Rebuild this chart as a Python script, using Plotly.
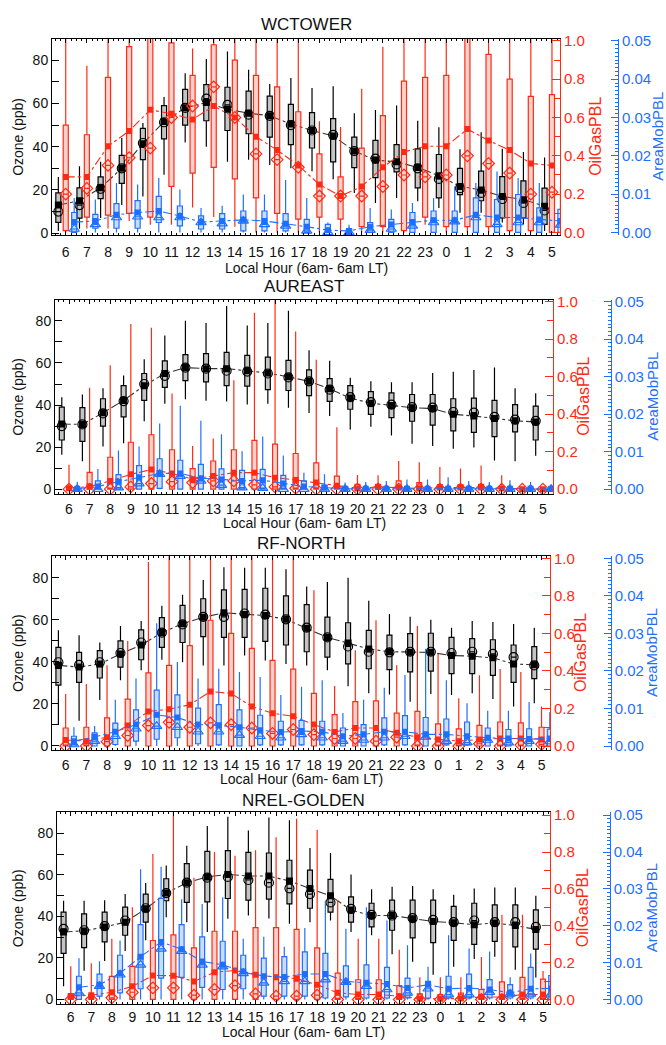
import plotly.graph_objects as go

# ---------------- data ----------------
HOURS = [6, 7, 8, 9, 10, 11, 12, 13, 14, 15, 16, 17, 18, 19, 20, 21, 22, 23, 0, 1, 2, 3, 4, 5]
HOUR_LABELS = [str(h) for h in HOURS]
SITES = ["WCTOWER", "AUREAST", "RF-NORTH", "NREL-GOLDEN"]

# WCTOWER
WC_O3_MEAN = [13, 15, 21, 30, 41.4, 51.6, 58, 60.4, 57.3, 55.5, 54.3, 50.5, 47.5, 45, 38, 33.8, 33, 30.4, 26.6, 21.6, 20, 17, 15.5, 12.5]
WC_O3_MED = [10, 13, 20.5, 30, 41.7, 51.3, 58, 62.2, 59.3, 54.8, 54.3, 50, 47.5, 45.5, 38, 34.5, 31.8, 30, 25.1, 20.8, 18.6, 15.8, 14, 10.5]
WC_O3_Q1 = [5, 7, 16, 23, 34, 43.6, 50, 52, 47.5, 46, 44.4, 41, 39.4, 33, 30.3, 25.7, 28.4, 21, 16.3, 17.8, 15, 7.1, 7.1, 4.1]
WC_O3_Q3 = [18.6, 21, 26, 36, 48.5, 59, 66.5, 68.7, 67.5, 65.7, 63.4, 59.6, 55.8, 53, 44.4, 42.9, 41, 39, 36.4, 30, 28.7, 26.2, 24.2, 20.8]
WC_O3_LO = [1, 2, 7, 13, 17, 27, 42, 40, 33, 34, 31.5, 30, 28.7, 25, 18.6, 14, 16.3, 14.8, 11.7, 9.4, 9.4, 4.9, 4.1, 1]
WC_O3_HI = [26, 31, 33, 44, 51, 63, 74, 80.6, 84, 75.6, 69, 71.8, 67.2, 68, 55.5, 57, 59, 52, 49, 38.8, 46.7, 39, 37.6, 35]

WC_OG_MEAN = [0.29, 0.29, 0.45, 0.53, 0.64, 0.62, 0.59, 0.66, 0.60, 0.50, 0.43, 0.35, 0.25, 0.19, 0.24, 0.34, 0.42, 0.45, 0.45, 0.54, 0.48, 0.43, 0.36, 0.35]
WC_OG_MED = [0.20, 0.23, 0.35, 0.39, 0.44, 0.60, 0.66, 0.76, 0.60, 0.41, 0.38, 0.34, 0.19, 0.19, 0.19, 0.24, 0.30, 0.29, 0.30, 0.40, 0.36, 0.31, 0.20, 0.21]
WC_OG_Q1 = [0.01, 0.08, 0.09, 0.10, 0.08, 0.24, 0.31, 0.34, 0.28, 0.18, 0.10, 0.07, 0.08, 0.07, 0.03, 0.03, 0.01, 0.08, 0.03, 0.03, 0.03, 0.01, 0.01, 0.0]
WC_OG_Q3 = [0.56, 0.51, 0.81, 0.97, 1.05, 0.99, 0.82, 0.98, 0.90, 0.82, 0.76, 0.63, 0.41, 0.29, 0.44, 0.61, 0.79, 0.81, 0.82, 1.05, 0.93, 0.80, 0.71, 0.72]
WC_OG_LO = [0.0, 0.02, 0.02, 0.06, 0.04, 0.04, 0.13, 0.08, 0.03, 0.0, 0.0, 0.0, 0.0, 0.0, 0.0, 0.0, 0.0, 0.04, 0.0, 0.0, 0.0, 0.0, 0.0, 0.0]
WC_OG_HI = [1.05, 0.87, 1.05, 1.05, 1.05, 1.05, 0.96, 1.05, 1.05, 1.05, 1.05, 1.05, 0.58, 0.55, 0.75, 0.97, 1.05, 1.05, 1.05, 1.05, 1.05, 1.05, 1.05, 1.05]

WC_AM_MEAN = [0.0027, 0.003, 0.0046, 0.0052, 0.0056, 0.0043, 0.0027, 0.003, 0.0033, 0.003, 0.0023, 0.0015, 0.0006, 0.0004, 0.0015, 0.0021, 0.0027, 0.0032, 0.0032, 0.0046, 0.0039, 0.0039, 0.0034, 0.003]
WC_AM_MED = [0.0009, 0.0021, 0.0039, 0.0041, 0.0039, 0.0039, 0.0026, 0.0023, 0.003, 0.0021, 0.0017, 0.0004, 0.0, 0.0, 0.0006, 0.0009, 0.0017, 0.0026, 0.0028, 0.0039, 0.0021, 0.0026, 0.0026, 0.002]
WC_AM_Q1 = [0.0, 0.0011, 0.0011, 0.0011, 0.0026, 0.0017, 0.0009, 0.0009, 0.0004, 0.0004, 0.0004, 0.0, 0.0, 0.0, 0.0, 0.0, 0.0, 0.0, 0.0, 0.0, 0.0, 0.0, 0.0, 0.0]
WC_AM_Q3 = [0.0052, 0.0047, 0.0075, 0.0083, 0.0094, 0.0069, 0.0043, 0.0049, 0.0056, 0.0056, 0.0049, 0.0034, 0.0021, 0.001, 0.0026, 0.0034, 0.0052, 0.0056, 0.0056, 0.009, 0.0086, 0.0099, 0.0064, 0.006]
WC_AM_LO = [0.0, 0.0, 0.0, 0.0, 0.0, 0.0, 0.0, 0.0, 0.0, 0.0, 0.0, 0.0, 0.0, 0.0, 0.0, 0.0, 0.0, 0.0, 0.0, 0.0, 0.0, 0.0, 0.0, 0.0]
WC_AM_HI = [0.009, 0.0086, 0.0129, 0.0125, 0.0142, 0.0112, 0.0064, 0.007, 0.0099, 0.0099, 0.0137, 0.009, 0.0026, 0.002, 0.0064, 0.006, 0.0077, 0.009, 0.012, 0.0129, 0.0159, 0.0142, 0.0129, 0.012]

# AUREAST
AU_O3_MEAN = [31, 30.8, 36.3, 42.2, 49.2, 55, 57.8, 57.3, 57.3, 56.3, 55.2, 53.4, 51.25, 47.7, 43.3, 40.9, 39.8, 38.75, 38.3, 35.6, 34.8, 33.6, 32.5, 32]
AU_O3_MED = [30, 30.8, 36, 41.9, 50, 53.9, 57.8, 57.3, 56.3, 55.9, 55, 53.1, 51.25, 47.3, 43.75, 41.4, 40.2, 39, 38.75, 36.7, 36.4, 34.4, 33.1, 32.5]
AU_O3_Q1 = [23.4, 22.7, 30, 34.4, 42.2, 48.4, 51.6, 51, 49.2, 49, 47.3, 46.9, 44.5, 41.7, 38, 35.6, 34, 32.3, 30.5, 27.7, 27, 25, 27.3, 23.4]
AU_O3_Q3 = [39, 38.75, 43, 49.2, 55, 61, 64, 64.4, 65, 63.6, 62.8, 61.25, 56.7, 52.6, 49.2, 46.4, 45.8, 45, 45, 43, 43.3, 42.2, 40.2, 39.5]
AU_O3_LO = [16.4, 13.3, 20.3, 21.9, 32.3, 40.6, 42.7, 42, 41.7, 40.3, 40.6, 38.75, 36.25, 34.8, 28.4, 29.7, 25.5, 21.6, 20.6, 19.2, 19.8, 13.6, 13.3, 15.9]
AU_O3_HI = [43.75, 45, 48, 54, 61.7, 73, 80, 79, 87, 77.8, 79, 84.8, 66, 61, 53, 51.25, 50.8, 50.8, 55.2, 55.8, 56.6, 57.8, 48, 45.6]

AU_OG_MEAN = [0.005, 0.014, 0.044, 0.079, 0.105, 0.084, 0.053, 0.07, 0.088, 0.088, 0.061, 0.049, 0.035, 0.018, 0.004, 0.012, 0.009, 0.004, 0.009, 0.009, 0.009, 0.004, 0.0, 0.0]
AU_OG_MED = [0.0, 0.0, 0.0, 0.012, 0.03, 0.04, 0.035, 0.044, 0.044, 0.023, 0.012, 0.005, 0.0, 0.0, 0.0, 0.0, 0.0, 0.0, 0.0, 0.0, 0.0, 0.0, 0.0, 0.0]
AU_OG_Q1 = [0.0, 0.0, 0.0, 0.0, 0.0, 0.0, 0.0, 0.0, 0.0, 0.0, 0.0, 0.0, 0.0, 0.0, 0.0, 0.0, 0.0, 0.0, 0.0, 0.0, 0.0, 0.0, 0.0, 0.0]
AU_OG_Q3 = [0.012, 0.09, 0.17, 0.25, 0.29, 0.21, 0.11, 0.15, 0.21, 0.26, 0.24, 0.19, 0.14, 0.07, 0.026, 0.026, 0.044, 0.035, 0.023, 0.023, 0.026, 0.01, 0.005, 0.003]
AU_OG_LO = [0.0, 0.0, 0.0, 0.0, 0.0, 0.0, 0.0, 0.0, 0.0, 0.0, 0.0, 0.0, 0.0, 0.0, 0.0, 0.0, 0.0, 0.0, 0.0, 0.0, 0.0, 0.0, 0.0, 0.0]
AU_OG_HI = [0.13, 0.54, 0.66, 0.88, 0.86, 0.51, 0.23, 0.27, 0.58, 0.94, 1.05, 0.84, 0.69, 0.33, 0.075, 0.074, 0.15, 0.144, 0.118, 0.11, 0.126, 0.074, 0.01, 0.005]

AU_AM_MEAN = [0.0001, 0.0007, 0.002, 0.0032, 0.0042, 0.0042, 0.0029, 0.0026, 0.0022, 0.0024, 0.0015, 0.0007, 0.0004, 0.0001, 0.0001, 0.0001, 0.0001, 0.0001, 0.0001, 0.0001, 0.0001, 0.0001, 0.0001, 0.0001]
AU_AM_MED = [0.0, 0.0, 0.0004, 0.0015, 0.004, 0.0035, 0.0022, 0.0011, 0.0004, 0.0003, 0.0, 0.0, 0.0, 0.0, 0.0, 0.0, 0.0, 0.0, 0.0, 0.0, 0.0, 0.0, 0.0, 0.0]
AU_AM_Q1 = [0.0, 0.0, 0.0, 0.0, 0.0002, 0.0, 0.0, 0.0, 0.0, 0.0, 0.0, 0.0, 0.0, 0.0, 0.0, 0.0, 0.0, 0.0, 0.0, 0.0, 0.0, 0.0, 0.0, 0.0]
AU_AM_Q3 = [0.0004, 0.0022, 0.0039, 0.0063, 0.0081, 0.0077, 0.0066, 0.0054, 0.005, 0.0053, 0.0037, 0.0022, 0.0011, 0.0004, 0.0003, 0.0003, 0.0003, 0.0003, 0.0003, 0.0003, 0.0003, 0.0003, 0.0003, 0.0002]
AU_AM_LO = [0.0, 0.0, 0.0, 0.0, 0.0, 0.0, 0.0, 0.0, 0.0, 0.0, 0.0, 0.0, 0.0, 0.0, 0.0, 0.0, 0.0, 0.0, 0.0, 0.0, 0.0, 0.0, 0.0, 0.0]
AU_AM_HI = [0.002, 0.0054, 0.0103, 0.0114, 0.0175, 0.0222, 0.0182, 0.0146, 0.0101, 0.014, 0.009, 0.0044, 0.004, 0.0018, 0.0019, 0.0022, 0.0026, 0.0026, 0.0032, 0.0022, 0.0019, 0.0024, 0.0019, 0.0005]

# RF-NORTH
RF_O3_MEAN = [38.3, 37.5, 39, 43.75, 48, 53.9, 58.1, 61.25, 63.3, 62.5, 62, 60.2, 56, 51.6, 48.9, 46.1, 44.8, 44.5, 44.5, 43, 42.7, 41.9, 39, 38.6]
RF_O3_MED = [39.8, 38.6, 39.8, 44.2, 49.2, 53.9, 57.8, 61.4, 61.4, 63, 62.5, 60.2, 56.25, 51.6, 47.3, 44.8, 44.5, 44.8, 44.8, 44.2, 44.8, 43.75, 42.2, 38.3]
RF_O3_Q1 = [28.9, 30.2, 32.3, 37.5, 41, 46.9, 49.2, 52, 51.6, 51.6, 49.7, 48, 44.8, 42.2, 39, 36.7, 36.25, 35.2, 35.6, 34.4, 34.4, 33.6, 30.2, 32]
RF_O3_Q3 = [46.9, 44.5, 45.3, 50, 55.2, 61, 66.9, 70, 74.2, 74.5, 75, 71.4, 67.2, 61.25, 58.6, 55, 52.7, 53.4, 53.6, 51.6, 51, 50.5, 48, 47.2]
RF_O3_LO = [10.2, 12, 21.9, 31.25, 36, 41, 39.8, 38.3, 38.3, 43, 40.6, 39, 38.3, 36, 28.4, 25, 24.5, 21, 24.7, 24.2, 25, 22.3, 18.75, 20.3]
RF_O3_HI = [55, 52.7, 49.2, 57, 59.4, 66.7, 71.9, 78.9, 85, 84.8, 84.8, 84, 75.8, 78, 80, 69, 62.8, 61.4, 60, 56.25, 59.4, 58.9, 58, 56.25]

RF_OG_MEAN = [0.032, 0.026, 0.047, 0.109, 0.184, 0.196, 0.22, 0.29, 0.28, 0.21, 0.175, 0.158, 0.114, 0.075, 0.096, 0.096, 0.07, 0.047, 0.035, 0.026, 0.035, 0.04, 0.04, 0.035]
RF_OG_MED = [0.0, 0.0, 0.023, 0.056, 0.109, 0.126, 0.1, 0.123, 0.114, 0.096, 0.067, 0.088, 0.061, 0.04, 0.04, 0.026, 0.047, 0.0, 0.0, 0.0, 0.012, 0.0, 0.005, 0.009]
RF_OG_Q1 = [0.0, 0.0, 0.0, 0.0, 0.0, 0.0, 0.0, 0.0, 0.0, 0.0, 0.0, 0.0, 0.0, 0.0, 0.0, 0.0, 0.0, 0.0, 0.0, 0.0, 0.0, 0.0, 0.0, 0.0]
RF_OG_Q3 = [0.096, 0.1, 0.15, 0.25, 0.39, 0.43, 0.535, 0.67, 0.6, 0.52, 0.456, 0.41, 0.28, 0.167, 0.237, 0.24, 0.175, 0.184, 0.118, 0.091, 0.11, 0.128, 0.123, 0.1]
RF_OG_LO = [0.0, 0.0, 0.0, 0.0, 0.0, 0.0, 0.0, 0.0, 0.0, 0.0, 0.0, 0.0, 0.0, 0.0, 0.0, 0.0, 0.0, 0.0, 0.0, 0.0, 0.0, 0.0, 0.0, 0.0]
RF_OG_HI = [0.277, 0.33, 0.43, 0.56, 0.98, 1.05, 1.05, 1.05, 1.05, 1.05, 1.05, 1.05, 0.83, 0.32, 0.51, 0.67, 0.43, 0.64, 0.49, 0.254, 0.377, 0.41, 0.395, 0.21]

RF_AM_MEAN = [0.0013, 0.0024, 0.0038, 0.0057, 0.0083, 0.0076, 0.0057, 0.0055, 0.005, 0.0042, 0.0037, 0.004, 0.0038, 0.0026, 0.0031, 0.0038, 0.0038, 0.0031, 0.0031, 0.0026, 0.0022, 0.002, 0.0019, 0.002]
RF_AM_MED = [0.0004, 0.0013, 0.0026, 0.0046, 0.0053, 0.005, 0.0038, 0.0038, 0.0029, 0.0026, 0.0022, 0.0031, 0.0022, 0.0013, 0.0016, 0.0022, 0.0026, 0.0024, 0.0013, 0.0009, 0.0016, 0.0009, 0.0013, 0.0012]
RF_AM_Q1 = [0.0, 0.0, 0.0004, 0.0013, 0.0018, 0.0022, 0.0006, 0.0003, 0.0, 0.0003, 0.0003, 0.0003, 0.0003, 0.0, 0.0, 0.0003, 0.0003, 0.0, 0.0003, 0.0003, 0.0, 0.0, 0.0, 0.0]
RF_AM_Q3 = [0.0026, 0.0035, 0.0061, 0.0096, 0.0149, 0.0136, 0.0101, 0.011, 0.0096, 0.0082, 0.0066, 0.0068, 0.0066, 0.0048, 0.0057, 0.0075, 0.0081, 0.0076, 0.0072, 0.0064, 0.0048, 0.0044, 0.0046, 0.0045]
RF_AM_LO = [0.0, 0.0, 0.0, 0.0, 0.0, 0.0, 0.0, 0.0, 0.0, 0.0, 0.0, 0.0, 0.0, 0.0, 0.0, 0.0, 0.0, 0.0, 0.0, 0.0, 0.0, 0.0, 0.0, 0.0]
RF_AM_HI = [0.005, 0.0053, 0.0123, 0.018, 0.0327, 0.0224, 0.018, 0.0206, 0.0197, 0.0184, 0.0136, 0.0158, 0.0175, 0.0088, 0.0123, 0.0155, 0.0189, 0.0259, 0.0175, 0.0114, 0.0094, 0.0094, 0.0117, 0.009]

# NREL-GOLDEN
NG_O3_MEAN = [32.5, 33, 34.9, 37.2, 43.6, 51.2, 56.2, 59, 60.2, 59.4, 59.4, 57, 53.4, 49.9, 43, 40.4, 40.4, 38.8, 37.5, 36.9, 36, 36.8, 35.6, 33.7]
NG_O3_MED = [34, 33.3, 35.3, 38, 43.9, 51.2, 56.2, 58.6, 59, 57.5, 56.2, 53.5, 50.7, 46.7, 43.6, 40.7, 40.4, 39.1, 38.3, 37.2, 38, 37.2, 37.2, 34.9]
NG_O3_Q1 = [22.2, 24.9, 27.7, 30.9, 37.2, 47.5, 46.7, 47, 48.6, 47.8, 48.3, 46, 43.9, 42, 37.2, 34.9, 33.3, 29.6, 27.4, 28.4, 26.5, 28, 25.3, 24.2]
NG_O3_Q3 = [42, 41.2, 42, 44.4, 50.7, 58.1, 65.4, 71.3, 71.6, 70.8, 70.5, 67, 62.3, 57.8, 49.4, 46.3, 47.8, 47.8, 47.8, 44.8, 46.3, 45.5, 45.5, 43.1]
NG_O3_LO = [6.3, 13.8, 18.5, 23.3, 28.5, 39.6, 37.2, 32.5, 38.8, 40.4, 39, 36.4, 37.2, 38, 32.5, 30.9, 21.7, 18.2, 11.9, 15.8, 19.5, 20.6, 14.3, 10.6]
NG_O3_HI = [47.5, 47.5, 47.8, 50.7, 56, 64.5, 74, 83.5, 88, 81.3, 87.6, 86.3, 72.9, 70.5, 60.2, 53, 54.3, 54.6, 53, 50.4, 53.4, 53.9, 53.9, 49.9]

NG_OG_MEAN = [0.018, 0.023, 0.039, 0.071, 0.13, 0.129, 0.098, 0.148, 0.157, 0.134, 0.121, 0.113, 0.08, 0.036, 0.027, 0.027, 0.018, 0.004, 0.004, 0.005, 0.014, 0.013, 0.027, 0.027]
NG_OG_MED = [0.0, 0.0, 0.009, 0.039, 0.063, 0.063, 0.023, 0.054, 0.075, 0.03, 0.018, 0.018, 0.023, 0.0, 0.0, 0.0, 0.0, 0.0, 0.0, 0.0, 0.0, 0.0, 0.0, 0.0]
NG_OG_Q1 = [0.0, 0.0, 0.0, 0.0, 0.0, 0.0, 0.0, 0.0, 0.0, 0.0, 0.0, 0.0, 0.0, 0.0, 0.0, 0.0, 0.0, 0.0, 0.0, 0.0, 0.0, 0.0, 0.0, 0.0]
NG_OG_Q3 = [0.03, 0.027, 0.125, 0.18, 0.32, 0.35, 0.28, 0.37, 0.37, 0.39, 0.39, 0.38, 0.28, 0.143, 0.107, 0.107, 0.075, 0.03, 0.027, 0.035, 0.054, 0.095, 0.12, 0.11]
NG_OG_LO = [0.0, 0.0, 0.0, 0.0, 0.0, 0.0, 0.0, 0.0, 0.0, 0.0, 0.0, 0.0, 0.0, 0.0, 0.0, 0.0, 0.0, 0.0, 0.0, 0.0, 0.0, 0.0, 0.0, 0.0]
NG_OG_HI = [0.18, 0.196, 0.33, 0.5, 0.79, 1.05, 0.66, 0.8, 0.78, 0.81, 0.88, 0.98, 0.92, 0.54, 0.33, 0.33, 0.27, 0.12, 0.12, 0.12, 0.23, 0.46, 0.46, 0.155]

NG_AM_MEAN = [0.0033, 0.004, 0.0071, 0.0116, 0.0156, 0.0136, 0.0103, 0.0094, 0.0076, 0.0063, 0.0061, 0.0069, 0.0069, 0.0049, 0.0045, 0.0042, 0.0031, 0.004, 0.0029, 0.0031, 0.0027, 0.0018, 0.0029, 0.003]
NG_AM_MED = [0.0018, 0.0036, 0.0067, 0.0094, 0.0137, 0.0131, 0.0094, 0.0089, 0.0071, 0.0045, 0.0049, 0.0049, 0.0054, 0.0047, 0.0036, 0.0027, 0.0018, 0.0029, 0.0013, 0.0013, 0.002, 0.0015, 0.0015, 0.0015]
NG_AM_Q1 = [0.0, 0.0009, 0.0018, 0.0029, 0.0058, 0.006, 0.0033, 0.0027, 0.0029, 0.0009, 0.0009, 0.0009, 0.0004, 0.0007, 0.0004, 0.0004, 0.0004, 0.0004, 0.0004, 0.0004, 0.0004, 0.0004, 0.0004, 0.0004]
NG_AM_Q3 = [0.0063, 0.0069, 0.012, 0.0203, 0.0274, 0.0203, 0.017, 0.0158, 0.012, 0.0112, 0.0116, 0.0129, 0.0125, 0.0091, 0.0094, 0.0087, 0.0058, 0.0049, 0.0063, 0.0069, 0.0054, 0.004, 0.0087, 0.0065]
NG_AM_LO = [0.0, 0.0, 0.0, 0.0, 0.0, 0.0, 0.0, 0.0, 0.0, 0.0, 0.0, 0.0, 0.0, 0.0, 0.0, 0.0, 0.0, 0.0, 0.0, 0.0, 0.0, 0.0, 0.0, 0.0]
NG_AM_HI = [0.0112, 0.0104, 0.016, 0.0353, 0.036, 0.0272, 0.0259, 0.0277, 0.0165, 0.017, 0.0143, 0.0194, 0.0268, 0.0192, 0.025, 0.0214, 0.0147, 0.0089, 0.0174, 0.0138, 0.013, 0.006, 0.0125, 0.0125]

O3_DATA = [
    (WC_O3_MEAN, WC_O3_MED, WC_O3_Q1, WC_O3_Q3, WC_O3_LO, WC_O3_HI),
    (AU_O3_MEAN, AU_O3_MED, AU_O3_Q1, AU_O3_Q3, AU_O3_LO, AU_O3_HI),
    (RF_O3_MEAN, RF_O3_MED, RF_O3_Q1, RF_O3_Q3, RF_O3_LO, RF_O3_HI),
    (NG_O3_MEAN, NG_O3_MED, NG_O3_Q1, NG_O3_Q3, NG_O3_LO, NG_O3_HI),
]
OG_DATA = [
    (WC_OG_MEAN, WC_OG_MED, WC_OG_Q1, WC_OG_Q3, WC_OG_LO, WC_OG_HI),
    (AU_OG_MEAN, AU_OG_MED, AU_OG_Q1, AU_OG_Q3, AU_OG_LO, AU_OG_HI),
    (RF_OG_MEAN, RF_OG_MED, RF_OG_Q1, RF_OG_Q3, RF_OG_LO, RF_OG_HI),
    (NG_OG_MEAN, NG_OG_MED, NG_OG_Q1, NG_OG_Q3, NG_OG_LO, NG_OG_HI),
]
AM_DATA = [
    (WC_AM_MEAN, WC_AM_MED, WC_AM_Q1, WC_AM_Q3, WC_AM_LO, WC_AM_HI),
    (AU_AM_MEAN, AU_AM_MED, AU_AM_Q1, AU_AM_Q3, AU_AM_LO, AU_AM_HI),
    (RF_AM_MEAN, RF_AM_MED, RF_AM_Q1, RF_AM_Q3, RF_AM_LO, RF_AM_HI),
    (NG_AM_MEAN, NG_AM_MED, NG_AM_Q1, NG_AM_Q3, NG_AM_LO, NG_AM_HI),
]

# ---------------- layout geometry (pixels) ----------------
W, H = 666, 1045
GEOM = [
    dict(L=52, R=560, T=32, B=231, BX=618, xr=[-0.65, 23.38], o3r=[-0.9, 90], rr=[-0.014, 1.012],
         ty=18, xty=264, rtx=596, btx=658, lso=4),
    dict(L=55, R=553, T=296.5, B=493, BX=610.7, xr=[-0.68, 23.49], o3r=[-2.2, 90], rr=[-0.025, 1.009],
         ty=283, xty=522, rtx=584, btx=653, lso=2),
    dict(L=52, R=550, T=556, B=752.5, BX=610.7, xr=[-0.66, 23.41], o3r=[-2.0, 90.3], rr=[-0.022, 1.012],
         ty=543, xty=782, rtx=580, btx=651, lso=2),
    dict(L=57, R=550, T=815, B=1010, BX=609.7, xr=[-0.67, 23.34], o3r=[-2.4, 90.3], rr=[-0.027, 1.018],
         ty=803, xty=1038, rtx=582, btx=651, lso=0),
]

BLACK = "#000000"
RED = "#ff2a14"
BLUE = "#1f6fff"
FONT = "Liberation Sans, Arial, sans-serif"

SERIES_STYLE = [
    # (key, color, fill, x offset, median symbol, axis index within panel, line color)
    ("og", RED, "rgba(255,70,50,0.25)", 0.0, "diamond-open", 1, RED),
    ("am", BLUE, "rgba(40,120,255,0.25)", 0.40, "triangle-up-open", 2, BLUE),
    ("o3", BLACK, "rgba(60,60,60,0.30)", -0.35, "circle-open", 0, "#333333"),
]

fig = go.Figure()
layout = dict(
    width=W, height=H, margin=dict(l=0, r=0, t=0, b=0),
    paper_bgcolor="white", plot_bgcolor="rgba(0,0,0,0)",
    showlegend=False, boxmode="overlay",
    font=dict(family=FONT, size=14, color="#111111"),
)
annotations = []

n = len(HOURS)
for p in range(4):
    g = GEOM[p]
    xid = "x" if p == 0 else f"x{p + 1}"
    yids = [f"y{3 * p + 1}" if (3 * p + 1) > 1 else "y", f"y{3 * p + 2}", f"y{3 * p + 3}"]
    data_map = {"o3": O3_DATA[p], "og": OG_DATA[p], "am": AM_DATA[p]}

    for key, col, fill, off, msym, ai, lcol in SERIES_STYLE:
        mean, med, q1, q3, lo, hi = data_map[key]
        xs = [i + off for i in range(n)]
        fig.add_trace(go.Box(
            x=xs, q1=q1, median=med, q3=q3, lowerfence=lo, upperfence=hi,
            width=0.24, whiskerwidth=0, boxpoints=False,
            line=dict(color=col, width=1.2), fillcolor=fill,
            xaxis=xid, yaxis=yids[ai], hoverinfo="skip",
        ))
    for key, col, fill, off, msym, ai, lcol in SERIES_STYLE:
        mean, med, q1, q3, lo, hi = data_map[key]
        xs = [i + off for i in range(n)]
        fig.add_trace(go.Scatter(
            x=xs, y=mean, mode="lines+markers",
            line=dict(color=lcol, width=1.1, dash="dashdot"),
            marker=dict(symbol="square", size=7 if key == "o3" else 6, color=col),
            xaxis=xid, yaxis=yids[ai], hoverinfo="skip",
        ))
        fig.add_trace(go.Scatter(
            x=xs, y=med, mode="markers",
            marker=dict(symbol=msym, size=9, color=col, line=dict(width=1.2, color=col)),
            xaxis=xid, yaxis=yids[ai], hoverinfo="skip",
        ))

    xdom = [g["L"] / W, g["R"] / W]
    ydom = [1 - g["B"] / H, 1 - g["T"] / H]
    xname = "xaxis" if p == 0 else f"xaxis{p + 1}"
    yn = [f"yaxis{3 * p + 1}" if (3 * p + 1) > 1 else "yaxis", f"yaxis{3 * p + 2}", f"yaxis{3 * p + 3}"]

    layout[xname] = dict(
        domain=xdom, anchor=yids[0], range=g["xr"],
        tickmode="array", tickvals=list(range(n)), ticktext=HOUR_LABELS,
        ticks="inside", ticklen=4, tickcolor=BLACK, tickwidth=1,
        showline=True, linecolor=BLACK, linewidth=1, mirror="ticks",
        showgrid=False, zeroline=False, ticklabelstandoff=g["lso"],
        tickfont=dict(size=14, color="#111111"),
        minor=dict(tickmode="linear", tick0=0, dtick=0.25, ticks="inside", ticklen=2, tickcolor=BLACK),
    )
    layout[yn[0]] = dict(
        domain=ydom, anchor=xid, range=g["o3r"],
        tickmode="linear", tick0=0, dtick=20,
        ticks="inside", ticklen=7, tickcolor=BLACK,
        showline=True, linecolor=BLACK, linewidth=1,
        showgrid=False, zeroline=False,
        tickfont=dict(size=14, color="#111111"),
        minor=dict(tickmode="linear", tick0=0, dtick=10, ticks="inside", ticklen=7, tickcolor=BLACK),
    )
    layout[yn[1]] = dict(
        overlaying=yids[0], side="right", anchor=xid, range=g["rr"],
        tickmode="linear", tick0=0, dtick=0.2, tickformat=".1f",
        ticks="inside", ticklen=8, tickcolor=RED,
        showline=True, linecolor=RED, linewidth=1,
        showgrid=False, zeroline=False,
        tickfont=dict(size=15, color=RED),
        minor=dict(tickmode="linear", tick0=0, dtick=0.1, ticks="inside", ticklen=6, tickcolor=RED),
    )
    layout[yn[2]] = dict(
        overlaying=yids[0], side="right", anchor="free", position=g["BX"] / W, range=[v * 0.05 for v in g["rr"]],
        tickmode="linear", tick0=0, dtick=0.01, tickformat=".2f",
        ticks="inside", ticklen=7, tickcolor=BLUE,
        showline=True, linecolor=BLUE, linewidth=1,
        showgrid=False, zeroline=False,
        tickfont=dict(size=15, color=BLUE),
        minor=dict(tickmode="linear", tick0=0, dtick=0.001, ticks="inside", ticklen=3, tickcolor=BLUE),
    )

    cx = (g["L"] + g["R"]) / 2 / W
    cy = 1 - (g["T"] + g["B"]) / 2 / H
    annotations += [
        dict(text=SITES[p], x=cx, y=1 - g["ty"] / H, xref="paper", yref="paper",
             showarrow=False, font=dict(size=17, color="#111111"), xanchor="center", yanchor="middle"),
        dict(text="Local Hour (6am- 6am LT)", x=cx, y=1 - g["xty"] / H, xref="paper", yref="paper",
             showarrow=False, font=dict(size=14, color="#111111"), xanchor="center", yanchor="middle"),
        dict(text="Ozone (ppb)", x=18 / W, y=cy, xref="paper", yref="paper", textangle=-90,
             showarrow=False, font=dict(size=14, color="#111111"), xanchor="center", yanchor="middle"),
        dict(text="OilGasPBL", x=g["rtx"] / W, y=cy, xref="paper", yref="paper", textangle=-90,
             showarrow=False, font=dict(size=16, color=RED), xanchor="center", yanchor="middle"),
        dict(text="AreaMobPBL", x=g["btx"] / W, y=cy, xref="paper", yref="paper", textangle=-90,
             showarrow=False, font=dict(size=15, color=BLUE), xanchor="center", yanchor="middle"),
    ]

layout["annotations"] = annotations
fig.update_layout(**layout)
fig.write_html("out.html")
